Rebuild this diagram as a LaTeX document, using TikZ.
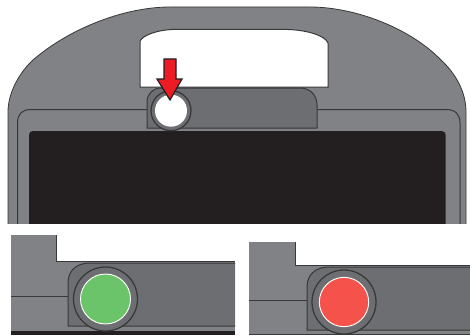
\documentclass[tikz,border=0pt]{standalone}
\definecolor{bodygray}{HTML}{808285}
\definecolor{slidegray}{HTML}{6D6E71}
\definecolor{inkdark}{HTML}{38373A}
\definecolor{screenblack}{HTML}{231F20}
\definecolor{arrowred}{HTML}{ED1C24}
\definecolor{lampgreen}{HTML}{6CC46A}
\definecolor{lampred}{HTML}{F4524B}
\tikzset{
  inkline/.style={draw=inkdark,line width=0.75pt},
  bodyshape/.style={fill=bodygray,draw=inkdark,line width=0.6pt},
  slidershape/.style={fill=slidegray,inkline},
  ringshape/.style={fill=slidegray,draw=inkdark,line width=0.95pt},
  lampshape/.style={draw=white,line width=0.7pt},
  screenshape/.style={fill=screenblack},
  panelclip/.style={fill=bodygray}
}
\begin{document}
\begin{tikzpicture}[x=0.75pt,y=-0.75pt]
\useasboundingbox (0,0) rectangle (470,335);
% main device, cut at the bottom
\begin{scope}
\clip (0,0) rectangle (470,223);
\path[bodyshape] (8,240) -- (8,112) .. controls (8,92) and (20,72) .. (33,60)
  .. controls (70,28) and (125,7) .. (170,7) -- (310,7)
  .. controls (355,7) and (410,28) .. (441,60)
  .. controls (456,74) and (466,92) .. (466,112) -- (466,240) -- cycle;
\draw[inkline] (17.5,240) -- (17.5,123) .. controls (17.5,114) and (22,109.5) .. (31,109.5) -- (148,109.5);
\draw[inkline] (317,109.5) -- (446,109.5) .. controls (455,109.5) and (460,114) .. (460,123) -- (460,240);
\path[screenshape] (29,240) -- (29,135) .. controls (29,132.5) and (30.5,131) .. (33,131)
  -- (441.5,131) .. controls (444,131) and (445.7,132.5) .. (445.7,135) -- (445.7,240) -- cycle;
\end{scope}
% window
\path[fill=white,inkline] (140,87) -- (140,41) .. controls (143,35) and (158,30) .. (172,29.5)
  -- (288,29.5) .. controls (305,30) and (325,35) .. (328,43) -- (328,87) -- cycle;
% slider
\path[slidershape] (147,128) -- (147,102) .. controls (147,94) and (153,88) .. (161,88)
  -- (300,88) .. controls (310,88) and (317,95) .. (317,105) -- (317,128) -- cycle;
% button
\node[circle,minimum size=30pt,inner sep=0pt,ringshape] (btn) at (171,110.7) {};
\node[circle,minimum size=24pt,inner sep=0pt,fill=white] (btnlamp) at (171,110.7) {};
% arrow
\path[fill=arrowred,draw=screenblack,line width=0.9pt,line join=miter]
  (164,59) -- (176,59) -- (176,79) -- (182,79) -- (170,100) -- (157,79) -- (164,79) -- cycle;
% left detail
\begin{scope}
\clip (11,235) rectangle (235,335);
\path[panelclip] (11,235) rectangle (235,335);
\path[fill=white] (56,235) -- (56,261) -- (235,261) -- (235,235) -- cycle;
\draw[inkline] (56,235) -- (56,261) -- (235,261);
\draw[inkline] (11,296) -- (68,296);
\path[screenshape] (11,330.5) rectangle (235,335);
\path[slidershape] (250,326) -- (68,326) -- (68,283) .. controls (68,271) and (76,263) .. (90,263) -- (250,263);
\node[circle,minimum size=48pt,inner sep=0pt,ringshape] (lring) at (105.5,299) {};
\node[circle,minimum size=37.5pt,inner sep=0pt,fill=lampgreen,lampshape] (llamp) at (105.5,299) {};
\end{scope}
% right detail
\begin{scope}
\clip (249,242) rectangle (470,335);
\path[panelclip] (249,242) rectangle (470,335);
\path[fill=white] (295,242) -- (295,265) -- (470,265) -- (470,242) -- cycle;
\draw[inkline] (295,242) -- (295,265) -- (470,265);
\draw[inkline] (249,300) -- (307,300);
\draw[inkline] (249,334.3) -- (470,334.3);
\path[slidershape] (480,330) -- (307,330) -- (307,287) .. controls (307,275) and (315,267) .. (329,267) -- (480,267);
\node[circle,minimum size=48pt,inner sep=0pt,ringshape] (rring) at (344,302) {};
\node[circle,minimum size=37pt,inner sep=0pt,fill=lampred,lampshape] (rlamp) at (344,302) {};
\end{scope}
\end{tikzpicture}
\end{document}
